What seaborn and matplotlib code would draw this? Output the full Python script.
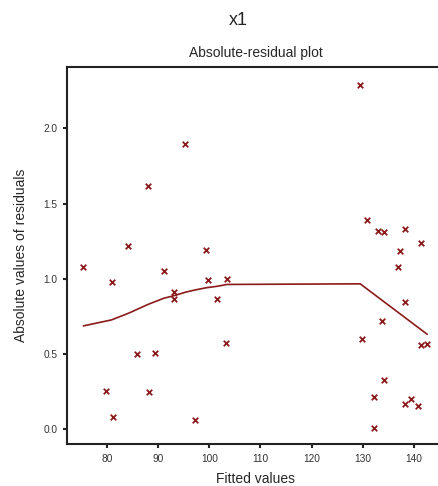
import matplotlib
matplotlib.use("Agg")
import matplotlib.pyplot as plt
import seaborn as sns
import pandas as pd

# fitted values and absolute residuals
fitted = [75.4, 80.9, 84.2, 88.1, 95.3, 91.1, 99.4, 99.8, 93.2, 93.2,
          101.6, 85.9, 89.4, 79.9, 88.3, 81.2, 97.2, 103.5, 103.2,
          129.5, 130.9, 133.0, 134.1, 138.3, 141.4, 137.3, 136.9, 129.9, 138.3,
          133.7, 141.4, 142.6, 134.1, 132.1, 132.1, 138.3, 139.5, 140.7]
abs_resid = [1.08, 0.98, 1.22, 1.62, 1.90, 1.05, 1.19, 0.99, 0.91, 0.866,
             0.866, 0.50, 0.507, 0.254, 0.247, 0.083, 0.06, 0.995, 0.572,
             2.29, 1.39, 1.32, 1.31, 1.33, 1.235, 1.186, 1.077, 0.599, 0.846,
             0.721, 0.559, 0.567, 0.325, 0.212, 0.009, 0.165, 0.20, 0.156]

# smoothed curve
smooth_x = [75.4, 80.9, 84.2, 88.1, 91.1, 93.2, 95.3, 97.2, 99.4, 101.6, 103.5, 129.5, 142.6]
smooth_y = [0.686, 0.726, 0.77, 0.83, 0.87, 0.888, 0.91, 0.925, 0.94, 0.95, 0.962, 0.966, 0.63]

xticks = [80, 90, 100, 110, 120, 130, 140]
yticks = [0.0, 0.5, 1.0, 1.5, 2.0]

RED = "#8b1a1a"

sns.set_style("ticks")
plt.rcParams["font.family"] = ["Liberation Sans", "DejaVu Sans"]

pts = pd.DataFrame({"fitted": fitted, "resid": abs_resid})
line = pd.DataFrame({"fitted": smooth_x, "resid": smooth_y})

fig = plt.figure(figsize=(4.38, 4.86), dpi=100)
ax = fig.add_axes([0.153, 0.0864, 0.861, 0.776])

sns.lineplot(data=line, x="fitted", y="resid", color=RED, linewidth=1.2,
             sort=True, estimator=None, ax=ax)
sns.scatterplot(data=pts, x="fitted", y="resid", marker="x", color=RED,
                s=16, linewidth=1.3, ax=ax)

ax.set_xlim(72.2, 145.9)
ax.set_ylim(-0.10, 2.41)
ax.set_xticks(xticks)
ax.set_yticks(yticks)
ax.set_yticklabels([f"{v:.1f}" for v in yticks])
ax.tick_params(axis="both", labelsize=7.3, length=3, width=1.5, color="#222222",
               labelcolor="#333333", pad=4)
for side in ["left", "bottom", "top"]:
    ax.spines[side].set_linewidth(1.5)
    ax.spines[side].set_color("#222222")
ax.spines["right"].set_visible(False)

ax.set_xlabel("Fitted values", fontsize=10, labelpad=6)
ax.set_ylabel("Absolute values of residuals", fontsize=10, labelpad=11)
ax.set_title("Absolute-residual plot", fontsize=10, pad=7)
fig.text(0.545, 0.957, "x1", fontsize=13, ha="center", va="center")

fig.savefig("out.png", dpi=100)
